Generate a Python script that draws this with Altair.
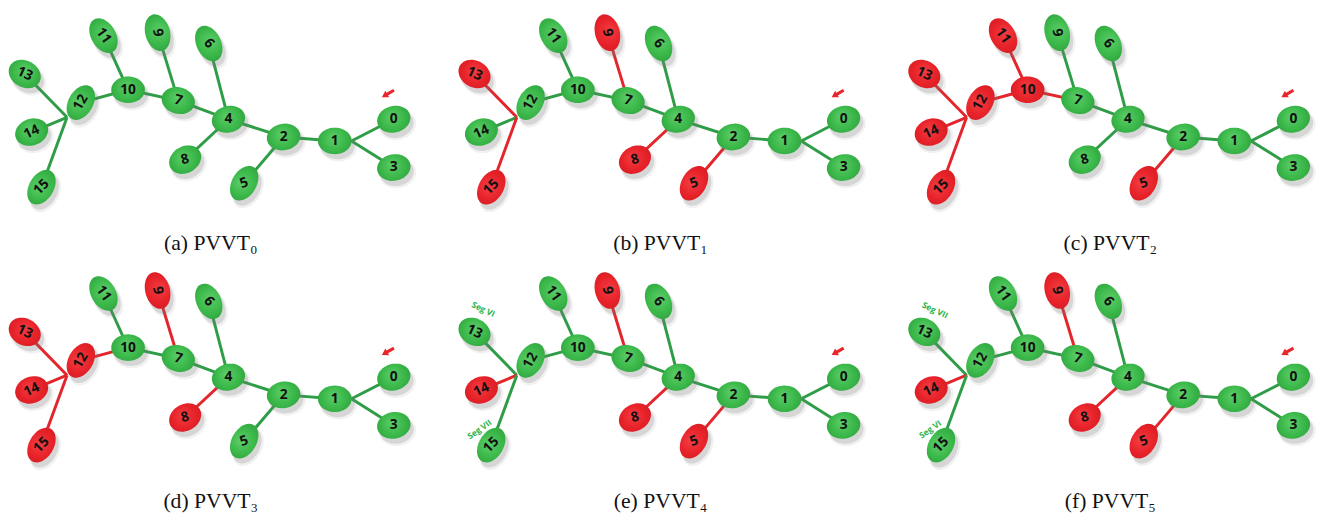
import math
import altair as alt
import pandas as pd

# ---------------- data ----------------
PANELS = ["a", "b", "c", "d", "e", "f"]
CAPTIONS = ["(a) PVVT\u2080", "(b) PVVT\u2081", "(c) PVVT\u2082",
            "(d) PVVT\u2083", "(e) PVVT\u2084", "(f) PVVT\u2085"]

NODE_IDS = list(range(16))
NODE_X = [396, 336, 284, 396, 228, 244, 208, 177, 184, 156, 126, 101, 78, 21, 28, 38]
NODE_Y = [115, 137, 133, 164, 115, 180, 38, 96, 156, 27, 85, 30, 98, 69, 128, 184]

# junction points where several branches meet
JUNCTION_NAMES = ["J1", "J12"]
JUNCTION_X = [353, 64]
JUNCTION_Y = [137, 113]

EDGE_FROM = ["J1", "J1", "1", "2", "2", "4", "4", "4", "7", "7", "10", "10", "J12", "J12", "J12"]
EDGE_TO = ["0", "3", "2", "4", "5", "6", "7", "8", "9", "10", "11", "12", "13", "14", "15"]

RED_NODES = {
    "a": [],
    "b": [13, 15, 9, 8, 5],
    "c": [11, 10, 12, 13, 14, 15, 5],
    "d": [13, 14, 15, 12, 9, 8],
    "e": [9, 14, 8, 5],
    "f": [9, 14, 8, 5],
}

ARROW_X = [390]
ARROW_Y = [89]

SEG_PANEL = ["e", "e", "f", "f"]
SEG_TEXT = ["Seg VI", "Seg VII", "Seg VII", "Seg VI"]
SEG_X = [30, 26, 32, 27]
SEG_Y = [46, 168, 47, 168]

# ---------------- styles ----------------
NODE_ANGLE = [345, 0, 350, 350, 345, 300, 65, 15, 330, 75, 0, 60, 300, 30, 340, 300]
TEXT_ANGLE = [0, 0, 0, 0, 0, 340, 50, 15, 345, 80, 0, 55, 300, 25, 335, 315]
LONG_NODES = [5, 6, 9, 11, 12, 15]
SEG_ANGLE = [25, 325, 25, 325]

GREEN_LINE = "#2f9d48"
RED_LINE = "#e2262c"


def ellipse_path(a, b, n=48):
    pts = []
    for i in range(n):
        t = 2 * math.pi * i / n
        pts.append(f"{a * math.cos(t):.4f},{b * math.sin(t):.4f}")
    return "M" + " L".join(pts) + " Z"


ROUND_SHAPE = ellipse_path(0.90, 0.71)
LONG_SHAPE = ellipse_path(1.0, 0.66)
ARROW_SHAPE = "M-1,0 L-0.1,-0.55 L-0.1,-0.22 L1,-0.22 L1,0.22 L-0.1,0.22 L-0.1,0.55 Z"

pos = {str(i): (NODE_X[i], NODE_Y[i]) for i in NODE_IDS}
for nm, jx, jy in zip(JUNCTION_NAMES, JUNCTION_X, JUNCTION_Y):
    pos[nm] = (jx, jy)

rows = []
for p, cap in zip(PANELS, CAPTIONS):
    red = set(RED_NODES[p])
    for i in NODE_IDS:
        rows.append(dict(panel=p, kind="node", x=NODE_X[i], y=NODE_Y[i], label=str(i),
                         status="red" if i in red else "green",
                         ang=NODE_ANGLE[i], tang=TEXT_ANGLE[i],
                         shape=LONG_SHAPE if i in LONG_NODES else ROUND_SHAPE))
    for f, t in zip(EDGE_FROM, EDGE_TO):
        x1, y1 = pos[f]
        x2, y2 = pos[t]
        rows.append(dict(panel=p, kind="edge", x=x1, y=y1, x2=x2, y2=y2,
                         ecol=RED_LINE if int(t) in red else GREEN_LINE))
    for ax, ay in zip(ARROW_X, ARROW_Y):
        rows.append(dict(panel=p, kind="arrow", x=ax, y=ay))
    rows.append(dict(panel=p, kind="caption", label=cap))
for sp, st, sx, sy, sa in zip(SEG_PANEL, SEG_TEXT, SEG_X, SEG_Y, SEG_ANGLE):
    rows.append(dict(panel=sp, kind="seg", x=sx, y=sy, label=st, tang=sa))

df = pd.DataFrame(rows)

W, H = 404, 246
X = alt.X("x:Q", scale=alt.Scale(domain=[4, 4 + W], nice=False, zero=False), axis=None)
Y = alt.Y("y:Q", scale=alt.Scale(domain=[6, 6 + H], nice=False, zero=False, reverse=True), axis=None)

green_grad = alt.Gradient(
    gradient="radial",
    stops=[alt.GradientStop(color="#5ccd68", offset=0),
           alt.GradientStop(color="#3cb94b", offset=0.55),
           alt.GradientStop(color="#2c9f3c", offset=1)],
    x1=0.45, y1=0.4, x2=0.5, y2=0.5, r1=0, r2=0.6)
red_grad = alt.Gradient(
    gradient="radial",
    stops=[alt.GradientStop(color="#f23d43", offset=0),
           alt.GradientStop(color="#e8232a", offset=0.55),
           alt.GradientStop(color="#d21a21", offset=1)],
    x1=0.45, y1=0.4, x2=0.5, y2=0.5, r1=0, r2=0.6)


def panel_chart(p):
    base = alt.Chart(df[df.panel == p])

    edges = base.transform_filter(alt.datum.kind == "edge").mark_rule(strokeWidth=3).encode(
        x=X, y=Y, x2="x2:Q", y2="y2:Q", color=alt.Color("ecol:N", scale=None))

    node_enc = dict(x=X, y=Y, shape=alt.Shape("shape:N", scale=None),
                    angle=alt.Angle("ang:Q", scale=None))

    shadow_soft = base.transform_filter(alt.datum.kind == "node").mark_point(
        filled=True, color="#777777", opacity=0.10, strokeWidth=0, xOffset=4, yOffset=6, size=1750
    ).encode(**node_enc)
    shadow = base.transform_filter(alt.datum.kind == "node").mark_point(
        filled=True, color="#777777", opacity=0.22, strokeWidth=0, xOffset=3, yOffset=5, size=1480
    ).encode(**node_enc)

    green_nodes = base.transform_filter(
        (alt.datum.kind == "node") & (alt.datum.status == "green")
    ).mark_point(filled=True, fill=green_grad, opacity=1, strokeWidth=0, size=1444).encode(**node_enc)
    red_nodes = base.transform_filter(
        (alt.datum.kind == "node") & (alt.datum.status == "red")
    ).mark_point(filled=True, fill=red_grad, opacity=1, strokeWidth=0, size=1444).encode(**node_enc)

    labels = base.transform_filter(alt.datum.kind == "node").mark_text(
        font="Open Sans", fontWeight="bold", fontSize=14, color="#111111",
        align="center", baseline="middle"
    ).encode(x=X, y=Y, text="label:N", angle=alt.Angle("tang:Q", scale=None))

    arrow = base.transform_filter(alt.datum.kind == "arrow").mark_point(
        filled=True, color="#e8262b", opacity=1, strokeWidth=0, shape=ARROW_SHAPE,
        size=200, angle=330
    ).encode(x=X, y=Y)

    layers = [edges, shadow_soft, shadow, green_nodes, red_nodes, labels, arrow]
    if p in SEG_PANEL:
        segs = base.transform_filter(alt.datum.kind == "seg").mark_text(
            font="Open Sans", fontSize=8.5, fontWeight="bold", color="#2db34a",
            align="center", baseline="middle"
        ).encode(x=X, y=Y, text="label:N", angle=alt.Angle("tang:Q", scale=None))
        layers.append(segs)

    caption = base.transform_filter(alt.datum.kind == "caption").mark_text(
        font="Liberation Serif", fontSize=22, color="#111111",
        align="center", baseline="middle"
    ).encode(x=alt.value(206), y=alt.value(235), text="label:N")
    layers.append(caption)

    return alt.layer(*layers).properties(width=W, height=H)


row1 = alt.hconcat(*[panel_chart(p) for p in PANELS[:3]], spacing=42)
row2 = alt.hconcat(*[panel_chart(p) for p in PANELS[3:]], spacing=42)
chart = alt.vconcat(row1, row2, spacing=16).properties(padding=0).configure_view(strokeWidth=0)

chart.save("out.html", embed_options={"renderer": "svg", "actions": False})
